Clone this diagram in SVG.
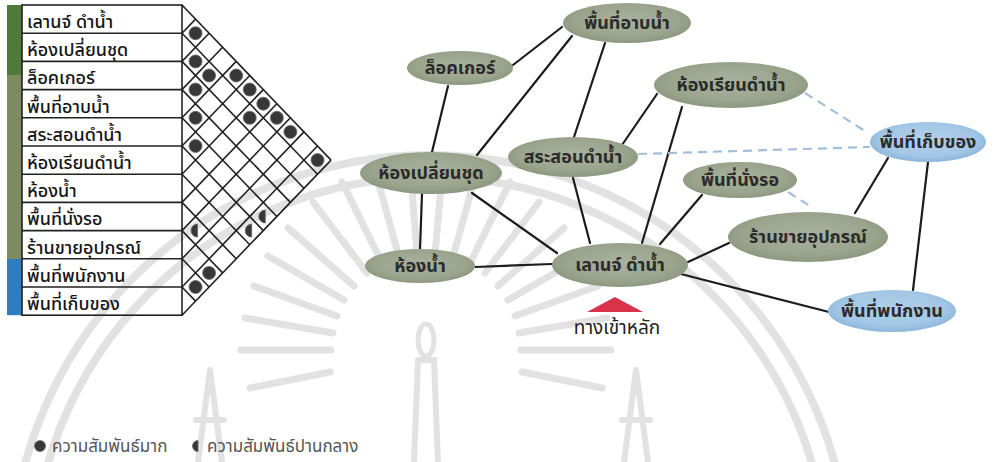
<svg xmlns="http://www.w3.org/2000/svg" width="997" height="462" viewBox="0 0 997 462">
<defs>
<radialGradient id="gG" cx="50%" cy="45%" r="55%"><stop offset="0" stop-color="#a9b29d"/><stop offset="0.75" stop-color="#9aa48d"/><stop offset="1" stop-color="#8c977f"/></radialGradient>
<radialGradient id="gB" cx="50%" cy="45%" r="55%"><stop offset="0" stop-color="#b3d2eb"/><stop offset="0.75" stop-color="#a2c6e5"/><stop offset="1" stop-color="#8db6db"/></radialGradient>
</defs>
<style>
.lbl{font-family:"Noto Sans Thai","Noto Sans","DejaVu Sans",sans-serif;font-size:18px;font-weight:500;fill:#151515}
.nt{font-family:"Noto Sans Thai","Noto Sans","DejaVu Sans",sans-serif;font-size:18px;font-weight:bold;fill:#2b2b2b;text-anchor:middle}
.lg{font-family:"Noto Sans Thai","Noto Sans","DejaVu Sans",sans-serif;font-size:17px;fill:#555}
.ln{stroke:#1c1c1c;stroke-width:2.2;fill:none;stroke-linecap:round}
.dl{stroke:#a3bfd8;stroke-width:2.2;stroke-dasharray:9 6;fill:none}
.grid{stroke:#222;stroke-width:1.6;fill:none}
.wm{stroke:#e2e2e2;fill:none;stroke-linecap:round}
.dot{fill:#383838;stroke:#666;stroke-width:0.8}
.g{fill:url(#gG)}
.b{fill:url(#gB)}
</style>
<rect width="997" height="462" fill="#ffffff"/>
<g id="watermark">
<circle class="wm" cx="430" cy="575" r="420" stroke-width="8"/>
<circle class="wm" cx="430" cy="575" r="398" stroke-width="8"/>
<g class="wm" stroke-width="7">
<line x1="331" y1="350" x2="241" y2="350"/>
<line x1="333" y1="333" x2="245" y2="318"/>
<line x1="337" y1="316" x2="254" y2="286"/>
<line x1="344" y1="300" x2="268" y2="256"/>
<line x1="354" y1="286" x2="288" y2="228"/>
<line x1="367" y1="273" x2="313" y2="202"/>
<line x1="382" y1="263" x2="342" y2="182"/>
<line x1="399" y1="257" x2="375" y2="170"/>
<line x1="417" y1="254" x2="410" y2="165"/>
<line x1="435" y1="254" x2="443" y2="165"/>
<line x1="453" y1="257" x2="477" y2="170"/>
<line x1="470" y1="263" x2="510" y2="182"/>
<line x1="485" y1="273" x2="539" y2="202"/>
<line x1="498" y1="286" x2="564" y2="228"/>
<line x1="508" y1="300" x2="584" y2="256"/>
<line x1="515" y1="316" x2="598" y2="286"/>
<line x1="519" y1="333" x2="607" y2="318"/>
<line x1="521" y1="350" x2="611" y2="350"/>
<line x1="330" y1="372" x2="250" y2="388"/>
<line x1="522" y1="372" x2="602" y2="388"/>
</g>
<ellipse class="wm" cx="426" cy="340" rx="8" ry="16" stroke-width="5"/>
<path class="wm" d="M418,360 L434,360 L438,462 M418,360 L414,462" stroke-width="6"/>
<path class="wm" d="M210,370 L198,462 M210,370 L222,462 M196,420 L224,420" stroke-width="6"/>
<path class="wm" d="M636,370 L624,462 M636,370 L648,462 M622,420 L650,420" stroke-width="6"/>
</g>
<g id="matrix">
<rect x="7" y="5" width="15" height="70" fill="#4f7a3c"/>
<rect x="7" y="75" width="15" height="184" fill="#7e8a5f"/>
<rect x="7" y="259" width="15" height="56.2" fill="#2d7dc0"/>
<rect x="22" y="5" width="160" height="310.2" fill="none" stroke="#222" stroke-width="1.6"/>
<path class="grid" d="M22,33.2H182M22,61.4H182M22,89.6H182M22,117.8H182M22,146H182M22,174.2H182M22,202.4H182M22,230.6H182M22,258.8H182M22,287H182"/>
<path class="grid" d="M182,5L331.05,160.1M182,33.2L317.5,174.2M182,61.4L303.95,188.3M182,89.6L290.4,202.4M182,117.8L276.85,216.5M182,146L263.3,230.6M182,174.2L249.75,244.7M182,202.4L236.2,258.8M182,230.6L222.65,272.9M182,258.8L209.1,287M182,287L195.55,301.1"/>
<path class="grid" d="M182,33.2L195.55,19.1M182,61.4L209.1,33.2M182,89.6L222.65,47.3M182,117.8L236.2,61.4M182,146L249.75,75.5M182,174.2L263.3,89.6M182,202.4L276.85,103.7M182,230.6L290.4,117.8M182,258.8L303.95,131.9M182,287L317.5,146M182,315.2L331.05,160.1"/>
<text class="lbl" x="27" y="28">เลานจ์ ดำน้ำ</text>
<text class="lbl" x="27" y="56.2">ห้องเปลี่ยนชุด</text>
<text class="lbl" x="27" y="84.4">ล็อคเกอร์</text>
<text class="lbl" x="27" y="112.6">พื้นที่อาบน้ำ</text>
<text class="lbl" x="27" y="140.8">สระสอนดำน้ำ</text>
<text class="lbl" x="27" y="169">ห้องเรียนดำน้ำ</text>
<text class="lbl" x="27" y="197.2">ห้องน้ำ</text>
<text class="lbl" x="27" y="225.4">พื้นที่นั่งรอ</text>
<text class="lbl" x="27" y="253.6">ร้านขายอุปกรณ์</text>
<text class="lbl" x="27" y="281.8">พื้นที่พนักงาน</text>
<text class="lbl" x="27" y="310">พื้นที่เก็บของ</text>
<g id="dots">
<circle class="dot" cx="195.55" cy="33.2" r="6.5"/>
<circle class="dot" cx="195.55" cy="61.4" r="6.5"/>
<circle class="dot" cx="209.1" cy="75.5" r="6.5"/>
<circle class="dot" cx="236.2" cy="75.5" r="6.5"/>
<circle class="dot" cx="195.55" cy="89.6" r="6.5"/>
<circle class="dot" cx="249.75" cy="89.6" r="6.5"/>
<circle class="dot" cx="263.3" cy="103.7" r="6.5"/>
<circle class="dot" cx="195.55" cy="117.8" r="6.5"/>
<circle class="dot" cx="249.75" cy="117.8" r="6.5"/>
<circle class="dot" cx="276.85" cy="117.8" r="6.5"/>
<circle class="dot" cx="290.4" cy="131.9" r="6.5"/>
<circle class="dot" cx="195.55" cy="146" r="6.5"/>
<circle class="dot" cx="317.5" cy="160.1" r="6.5"/>
<circle class="dot" cx="209.1" cy="272.9" r="6.5"/>
<circle class="dot" cx="195.55" cy="287" r="6.5"/>
<path class="dot" d="M197.5,224.1A6.5,6.5 0 0 0 197.5,237.1Z"/>
<path class="dot" d="M251.7,224.1A6.5,6.5 0 0 0 251.7,237.1Z"/>
<path class="dot" d="M265.3,210A6.5,6.5 0 0 0 265.3,223Z"/>
</g>
</g>
<g id="connectors">
<line class="ln" x1="513" y1="65" x2="562" y2="27"/>
<line class="ln" x1="448" y1="86" x2="432" y2="152"/>
<line class="ln" x1="572" y1="36" x2="477" y2="155"/>
<line class="ln" x1="605" y1="43" x2="574" y2="137"/>
<line class="ln" x1="622" y1="145" x2="657" y2="94"/>
<line class="ln" x1="682" y1="107" x2="642" y2="243"/>
<line class="ln" x1="422" y1="194" x2="420" y2="249"/>
<line class="ln" x1="472" y1="193" x2="557" y2="253"/>
<line class="ln" x1="573" y1="178" x2="590" y2="243"/>
<line class="ln" x1="475" y1="267" x2="552" y2="264"/>
<line class="ln" x1="660" y1="244" x2="702" y2="195"/>
<line class="ln" x1="688" y1="262" x2="729" y2="243"/>
<line class="ln" x1="681" y1="274" x2="829" y2="312"/>
<line class="ln" x1="855" y1="213" x2="888" y2="158"/>
<line class="ln" x1="928" y1="162" x2="913" y2="290"/>
<line class="dl" x1="805" y1="93" x2="868" y2="133"/>
<line class="dl" x1="638" y1="154" x2="870" y2="147"/>
<line class="dl" x1="788" y1="192" x2="813" y2="208"/>
</g>
<g id="n-bath"><ellipse class="g" cx="627" cy="23" rx="64" ry="20"/><text class="nt" x="627" y="29">พื้นที่อาบน้ำ</text></g>
<g id="n-locker"><ellipse class="g" cx="460" cy="68" rx="53" ry="17"/><text class="nt" x="460" y="74">ล็อคเกอร์</text></g>
<g id="n-class"><ellipse class="g" cx="731" cy="85" rx="77" ry="23"/><text class="nt" x="731" y="91">ห้องเรียนดำน้ำ</text></g>
<g id="n-storage"><ellipse class="b" cx="928" cy="142" rx="58" ry="20"/><text class="nt" x="928" y="148">พื้นที่เก็บของ</text></g>
<g id="n-wait"><ellipse class="g" cx="740" cy="180" rx="57" ry="18"/><text class="nt" x="740" y="186">พื้นที่นั่งรอ</text></g>
<g id="n-shop"><ellipse class="g" cx="808" cy="237" rx="80" ry="25"/><text class="nt" x="808" y="243">ร้านขายอุปกรณ์</text></g>
<g id="n-staff"><ellipse class="b" cx="892" cy="311" rx="64" ry="21"/><text class="nt" x="892" y="317">พื้นที่พนักงาน</text></g>
<g id="n-pool"><ellipse class="g" cx="573" cy="157" rx="65" ry="20"/><text class="nt" x="573" y="163">สระสอนดำน้ำ</text></g>
<g id="n-change"><ellipse class="g" cx="431" cy="173" rx="71" ry="21"/><text class="nt" x="431" y="179">ห้องเปลี่ยนชุด</text></g>
<g id="n-toilet"><ellipse class="g" cx="420" cy="266" rx="55" ry="17"/><text class="nt" x="420" y="272">ห้องน้ำ</text></g>
<g id="n-lounge"><ellipse class="g" cx="620" cy="265" rx="68" ry="22"/><text class="nt" x="620" y="271">เลานจ์ ดำน้ำ</text></g>
<g id="entrance">
<polygon points="615,297 643,312 587,312" fill="#d9334c"/>
<text class="lg" x="617" y="334" text-anchor="middle" style="font-size:19px;fill:#222">ทางเข้าหลัก</text>
</g>
<g id="legend">
<circle class="dot" cx="40" cy="446" r="5.5"/>
<text class="lg" x="52" y="452">ความสัมพันธ์มาก</text>
<path class="dot" d="M198,440.5A5.5,5.5 0 0 0 198,451.5Z"/>
<text class="lg" x="207" y="452">ความสัมพันธ์ปานกลาง</text>
</g>
</svg>
